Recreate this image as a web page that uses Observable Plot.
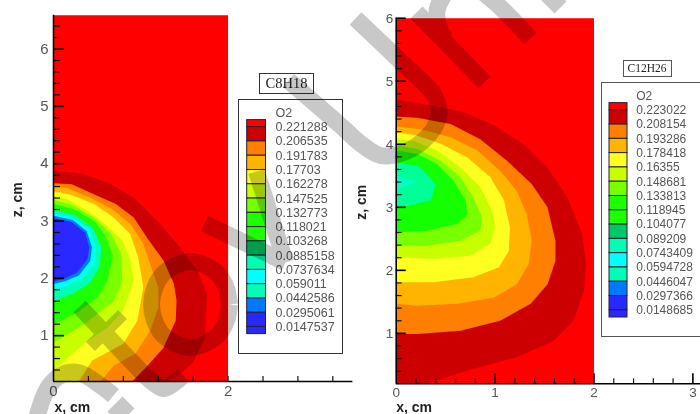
<!DOCTYPE html>
<html><head><meta charset="utf-8">
<script src="https://cdn.jsdelivr.net/npm/d3@7"></script>
<script src="https://cdn.jsdelivr.net/npm/@observablehq/plot@0.6"></script>
<style>
html,body{margin:0;padding:0;background:#fff;}
#page{position:relative;width:700px;height:414px;overflow:hidden;background:#fff;isolation:isolate;}
.box{position:absolute;box-sizing:border-box;background:#fff;}
.title{font-family:"Liberation Serif",serif;text-align:center;}
</style></head><body><div id="page"></div>
<script>
// ---- left panel: O2 iso-bands for C8H18, [x cm, z cm], outermost first
const l_red=[[0,.2],[2,.2],[2,6.59],[0,6.59]];
const l_darkred=[[0,3.88],[.35,3.82],[.65,3.65],[.92,3.41],[1.19,3.0],[1.45,2.54],[1.65,2.13],[1.76,1.73],[1.74,.97],[1.6,.53],[1.47,.36],[1.3,.2],[0,.2]];
const l_orange=[[0,3.66],[.21,3.64],[.5,3.44],[.71,3.3],[.92,3.06],[1.07,2.71],[1.26,2.31],[1.38,1.9],[1.41,1.61],[1.4,1.26],[1.26,.79],[1.08,.48],[.9,.2],[0,.2]];
const l_gold=[[0,3.6],[.16,3.57],[.42,3.41],[.67,3.21],[.88,2.95],[1.03,2.6],[1.12,2.19],[1.2,1.84],[1.2,1.49],[1.11,1.09],[.94,.69],[.69,.48],[.54,.2],[0,.2]];
const l_yellow=[[0,3.52],[.19,3.46],[.46,3.3],[.69,3.06],[.88,2.77],[.97,2.37],[1.03,1.84],[.96,1.26],[.8,.86],[.44,.56],[.29,.2],[0,.2]];
const l_lime=[[0,3.44],[.16,3.38],[.42,3.15],[.61,2.92],[.79,2.66],[.88,2.31],[.92,1.96],[.8,1.44],[.62,1.14],[.35,.86],[0,.39]];
const l_chart=[[0,3.37],[.23,3.27],[.46,3.06],[.65,2.8],[.77,2.45],[.79,1.96],[.69,1.6],[.35,1.2],[0,.87]];
const l_green=[[0,3.3],[.24,3.2],[.47,3.0],[.59,2.75],[.68,2.4],[.62,1.96],[.5,1.66],[.27,1.4],[0,1.2]];
const l_aqua=[[0,3.2],[.25,3.1],[.45,2.88],[.55,2.55],[.53,2.2],[.42,1.92],[.22,1.73],[0,1.6]];
const l_cyan=[[0,3.14],[.22,3.06],[.41,2.86],[.49,2.55],[.47,2.25],[.33,2.0],[.15,1.86],[0,1.82]];
const l_azure=[[0,3.09],[.22,3.02],[.38,2.82],[.44,2.54],[.42,2.3],[.29,2.05],[.13,1.95],[0,1.9]];
const l_blue=[[0,3.05],[.21,2.98],[.36,2.8],[.41,2.54],[.39,2.34],[.27,2.1],[.12,1.99],[0,1.95]];
const l_bands=[l_red,l_darkred,l_orange,l_gold,l_yellow,l_lime,l_chart,l_green,l_aqua,l_cyan,l_azure,l_blue];
const l_bandColors=["#ff0000","#cc0000","#ff7f00","#ffb400","#ffff20","#c8ff00","#78ff00","#1eff00","#00ffb4","#00ffff","#0078ff","#2828ff"];

// ---- right panel: O2 iso-bands for C12H26
const r_red=[[0,.2],[2,.2],[2,6],[0,6]];
const r_darkred=[[0,4.71],[.38,4.61],[.68,4.51],[.99,4.3],[1.29,4.0],[1.53,3.63],[1.73,3.16],[1.88,2.58],[1.92,2.1],[1.9,1.68],[1.79,1.2],[1.59,.88],[1.22,.62],[.72,.41],[.31,.2],[0,.2]];
const r_orange=[[0,4.44],[.21,4.42],[.55,4.32],[.85,4.08],[1.12,3.74],[1.37,3.37],[1.53,3.0],[1.61,2.47],[1.61,2.15],[1.53,1.78],[1.36,1.47],[1.05,1.2],[.65,1.04],[.21,.99],[0,.99]];
const r_gold=[[0,4.28],[.25,4.24],[.55,4.11],[.82,3.9],[1.05,3.58],[1.22,3.26],[1.32,2.89],[1.37,2.47],[1.34,2.1],[1.22,1.78],[.99,1.57],[.62,1.47],[.21,1.44],[0,1.47]];
const r_yellow=[[0,4.19],[.21,4.14],[.45,4.01],[.72,3.79],[.95,3.48],[1.09,3.11],[1.15,2.68],[1.14,2.31],[1.04,2.05],[.78,1.89],[.38,1.81],[0,1.81]];
const r_lime=[[0,4.08],[.18,4.05],[.41,3.9],[.65,3.63],[.85,3.32],[.97,2.95],[1.0,2.68],[.95,2.42],[.75,2.23],[.38,2.18],[0,2.21]];
const r_chart=[[0,3.98],[.21,3.93],[.45,3.74],[.65,3.48],[.78,3.16],[.87,2.84],[.85,2.63],[.65,2.47],[.31,2.39],[0,2.39]];
const r_green=[[0,3.9],[.21,3.85],[.41,3.69],[.58,3.42],[.7,3.11],[.72,2.89],[.62,2.74],[.31,2.63],[0,2.6]];
const r_aqua=[[0,3.71],[.23,3.66],[.4,3.37],[.35,3.11],[.14,3.03],[0,3.0]];
const r_cyan=[[0,3.5],[.2,3.4],[0,3.27]];
const r_bands=[r_red,r_darkred,r_orange,r_gold,r_yellow,r_lime,r_chart,r_green,r_aqua,r_cyan];
const r_bandColors=["#ff0000","#cc0000","#ff7f00","#ffb400","#ffff20","#c8ff00","#78ff00","#14ff00","#00ff96","#00ffc8"];

// ---- legends
const l_labels=["0.221288","0.206535","0.191783","0.17703","0.162278","0.147525","0.132773","0.118021","0.103268","0.0885158","0.0737634","0.059011","0.0442586","0.0295061","0.0147537"];
const r_labels=["0.223022","0.208154","0.193286","0.178418","0.16355","0.148681","0.133813","0.118945","0.104077","0.089209","0.0743409","0.0594728","0.0446047","0.0297366","0.0148685"];
const legendColors=["#ff0000","#cc0000","#ff7f00","#ffb400","#ffff20","#c8ff00","#78ff00","#1eff00","#1eff00","#00c864","#00ffb4","#00ffff","#00ffb4","#0078ff","#2828ff","#2828ff"];

// ---- axes
const l_zMajor=[1,2,3,4,5,6], l_zMinor=[.4,.6,.8,1.2,1.4,1.6,1.8,2.2,2.4,2.6,2.8,3.2,3.4,3.6,3.8,4.2,4.4,4.6,4.8,5.2,5.4,5.6,5.8,6.2,6.4];
const l_xTicks=[.4,.8,1.2,1.6,2,2.4,2.8,3.2], l_xLabels=[0,2];
const r_zMajor=[1,2,3,4,5,6], r_zMinor=[.4,.6,.8,1.2,1.4,1.6,1.8,2.2,2.4,2.6,2.8,3.2,3.4,3.6,3.8,4.2,4.4,4.6,4.8,5.2,5.4,5.6,5.8];
const r_xMajor=[1,2,3], r_xMinor=[.2,.4,.6,.8,1.2,1.4,1.6,1.8,2.2,2.4,2.6,2.8], r_xLabels=[0,1,2,3];

// ---- grey overlay strokes crossing the figure, page pixels
const w_a=[[288,80],[340,125],[360,143],[380,155],[400,153],[423,140],[438,117],[435,97],[397,58],[355,18]];
const w_b=[[416,12],[484,82]];
const w_c=[[530,38],[490,-2],[470,-15],[450,-12],[437,8],[438,25],[445,38]];
const w_d=[[560,7],[540,-13]];
const w_e=[[204,223],[285,262]];
const w_f=[[256,171],[285,262]];
const w_ring=[[229,304],[226,320],[218,334],[205,343],[190,347],[175,343],[162,334],[154,320],[151,304],[154,288],[162,274],[175,265],[190,261],[205,265],[218,274],[226,288],[229,304]];
const w_g=[[79,306],[133,363],[150,380],[163,388],[173,383],[183,375]];
const w_h=[[122,314],[90,346]];
const w_i=[[36,418],[47,388],[60,375],[78,372],[100,385],[113,395]];
const w_j=[[128,402],[113,417]];
const overlay=[w_a,w_b,w_c,w_d,w_e,w_f,w_ring,w_g,w_i,w_j];

const page=document.getElementById("page");
const grey="#555";

function panel(o){
  const kx=(o.width-o.ml-o.mr)/(o.xd[1]-o.xd[0]);
  const kz=(o.height-o.mt-o.mb)/(o.zd[1]-o.zd[0]);
  const marks=[];
  o.bands.forEach((b,i)=>marks.push(Plot.line(b,{x:d=>d[0],y:d=>d[1],fill:o.colors[i],stroke:null})));
  const z0=o.zd[0];
  marks.push(
    Plot.ruleY(o.zMinor,{x1:0,x2:o.minorLen/kx,stroke:"#111",strokeWidth:1.2}),
    Plot.ruleY(o.zMajor,{x1:0,x2:o.majorLen/kx,stroke:"#000",strokeWidth:1.6}),
    Plot.ruleX(o.xMinor,{y1:z0,y2:z0+o.xMinorLen/kz,stroke:"#111",strokeWidth:1.2}),
    Plot.ruleX(o.xMajor,{y1:z0,y2:z0+o.xMajorLen/kz,stroke:"#000",strokeWidth:1.6}),
    Plot.ruleX([0],{y1:z0,y2:o.zd[1],stroke:"#000",strokeWidth:1.6}),
    Plot.ruleY([z0],{x1:0,x2:o.xd[1],stroke:"#000",strokeWidth:1.6}),
    Plot.axisX({ticks:o.xLabels,tickSize:0,tickPadding:o.xPad,label:null,fontSize:o.fs,color:grey,tickFormat:d=>String(d)}),
    Plot.axisY({ticks:o.zLabels,tickSize:0,tickPadding:o.zPad,label:null,fontSize:o.fs,color:grey,tickFormat:d=>String(d)}),
    Plot.text(["x, cm"],{x:0,y:z0,dx:o.xtx,dy:o.xty,text:d=>d,textAnchor:"start",fontSize:14,fontWeight:"bold",fontFamily:"Liberation Sans",fill:"#222"}),
    Plot.text(["z, cm"],{x:0,y:o.ztz,dx:o.ztx,text:d=>d,rotate:-90,fontSize:14,fontWeight:"bold",fontFamily:"Liberation Sans",fill:"#222"})
  );
  const svg=Plot.plot({width:o.width,height:o.height,marginLeft:o.ml,marginRight:o.mr,marginTop:o.mt,marginBottom:o.mb,
    x:{domain:o.xd,axis:null},y:{domain:o.zd,axis:null},
    style:{position:"absolute",left:o.left+"px",top:"0px",overflow:"visible",background:"transparent",fontFamily:"Liberation Sans",filter:`blur(${o.blur}px)`},
    marks});
  page.appendChild(svg);
}

function legend(o){
  const box=document.createElement("div");box.className="box";
  Object.assign(box.style,{left:o.left+"px",top:o.top+"px",width:o.w+"px",height:o.h+"px",border:"1px solid "+o.line,filter:`blur(${o.blur}px)`});
  page.appendChild(box);
  const t=document.createElement("div");t.className="box title";t.textContent=o.title;
  Object.assign(t.style,{left:o.tl+"px",top:o.tt+"px",width:o.tw+"px",height:o.th+"px",border:"1px solid "+o.line,fontSize:o.tfs+"px",lineHeight:(o.th-2)+"px",color:"#222",filter:`blur(${o.blur}px)`});
  page.appendChild(t);
  const vals=o.labels.map(Number);
  const edges=[o.domain[1],...vals,o.domain[0]];
  const cells=legendColors.map((c,i)=>({y1:edges[i],y2:edges[i+1],fill:c}));
  const svg=Plot.plot({width:o.w,height:o.h,marginLeft:o.ml,marginRight:o.mr,marginTop:o.mt,marginBottom:o.mb,
    x:{domain:[0,1],axis:null},y:{domain:o.domain,axis:null},
    style:{position:"absolute",left:o.left+"px",top:o.top+"px",overflow:"visible",background:"transparent",fontFamily:"Liberation Sans",filter:`blur(${o.blur}px)`},
    marks:[
      Plot.rect(cells,{x1:()=>0,x2:()=>1,y1:"y1",y2:"y2",fill:"fill",stroke:"#223",strokeWidth:1}),
      Plot.text(o.labels,{x:()=>1,y:d=>+d,text:d=>d,dx:o.tx,textAnchor:"start",fontSize:o.fs,fill:grey}),
      Plot.text(["O2"],{x:()=>1,y:()=>o.domain[1],dx:o.tx,dy:-7,text:d=>d,textAnchor:"start",fontSize:o.fs,fill:grey})
    ]});
  page.appendChild(svg);
}

panel({left:0,width:352.4,height:414,ml:53,mr:0,mt:14.7,mb:33,xd:[0,3.43],zd:[.2,6.59],bands:l_bands,colors:l_bandColors,
  zMinor:l_zMinor,zMajor:l_zMajor,xMinor:l_xTicks,xMajor:[],zLabels:l_zMajor,xLabels:l_xLabels,
  minorLen:7,majorLen:11,xMinorLen:5,xMajorLen:8,xPad:4,zPad:5,fs:15,xtx:1,xty:26,ztz:3.37,ztx:-36,blur:.35});
panel({left:350,width:350,height:414,ml:45.7,mr:0,mt:17.7,mb:30.7,xd:[0,3.077],zd:[.2,6],bands:r_bands,colors:r_bandColors,
  zMinor:r_zMinor,zMajor:r_zMajor,xMinor:r_xMinor,xMajor:r_xMajor,zLabels:r_zMajor,xLabels:r_xLabels,
  minorLen:6,majorLen:10,xMinorLen:5,xMajorLen:10,xPad:4,zPad:3,fs:13.5,xtx:0,xty:24,ztz:3.08,ztx:-35,blur:.6});

legend({left:238,top:98.7,w:104.5,h:255,line:"#333",title:"C8H18",tl:259,tt:73,tw:55,th:21,tfs:14.5,labels:l_labels,
  domain:[.0074,.2286],ml:8.7,mr:77,mt:20.6,mb:20.4,tx:9.5,fs:12.5,blur:.3});
legend({left:600.5,top:81.7,w:100,h:255,line:"#555",title:"C12H26",tl:622.5,tt:60,tw:49,th:17,tfs:11.5,labels:r_labels,
  domain:[.0074,.2305],ml:8,mr:74,mt:20.6,mb:20,tx:8.7,fs:12,blur:.55});

// overlay strokes, multiplied onto everything underneath
const strokeMark=(s,w)=>Plot.line(s,{x:d=>d[0],y:d=>d[1],stroke:"#c8c8c8",strokeWidth:w,strokeLinejoin:"round",strokeLinecap:"butt",curve:s.length>4?"catmull-rom":"linear"});
const ov=Plot.plot({width:700,height:414,margin:0,x:{domain:[0,700],axis:null},y:{domain:[414,0],axis:null},
  style:{position:"absolute",left:"0px",top:"0px",background:"transparent",mixBlendMode:"multiply",filter:"blur(.4px)"},
  marks:[...overlay.map(s=>strokeMark(s,17)),strokeMark(w_h,12.5)]});
page.appendChild(ov);
</script></body></html>
